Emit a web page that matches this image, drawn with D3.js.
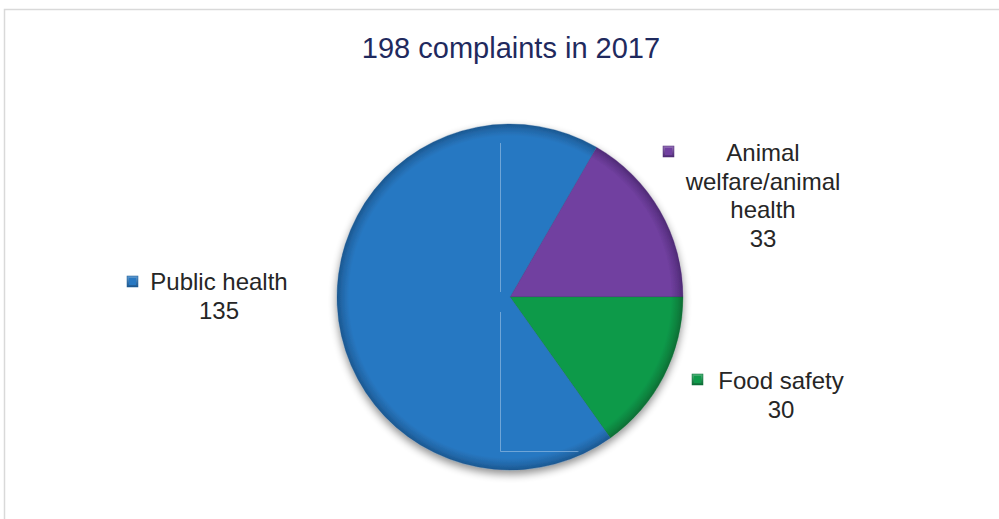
<!DOCTYPE html>
<html><head><meta charset="utf-8">
<script src="https://cdn.jsdelivr.net/npm/d3@7"></script>
<style>body{margin:0;background:#fff;}svg{display:block;font-family:"Liberation Sans",Arial,sans-serif;}</style>
</head><body>
<script>
const title = "198 complaints in 2017";
const categories = ["Animal welfare/animal health", "Food safety", "Public health"];
const values = [33, 30, 135];
const labelLines = [["Animal", "welfare/animal", "health"], ["Food safety"], ["Public health"]];
const colors = ["#7140a0", "#0f9a4a", "#2878c2"];
const darkColors = ["#4e2a75", "#0a6d34", "#1b5790"];

const W = 999, H = 519;
const svg = d3.select("body").append("svg").attr("width", W).attr("height", H);
const defs = svg.append("defs");

// border
svg.append("path").attr("d", "M4.5,519 L4.5,9.5 L999,9.5").attr("fill", "none").attr("stroke", "#d9d9d9").attr("stroke-width", 1.5);

svg.append("text").attr("x", 511).attr("y", 58).attr("text-anchor", "middle")
  .attr("font-size", 29).attr("fill", "#1f2a5e").text(title);

const cx = 510, cy = 297, R = 173;

const shadow = defs.append("filter").attr("id", "sh").attr("x", "-20%").attr("y", "-20%").attr("width", "140%").attr("height", "140%");
shadow.append("feGaussianBlur").attr("in", "SourceAlpha").attr("stdDeviation", 4).attr("result", "b");
shadow.append("feOffset").attr("in", "b").attr("dy", 4).attr("result", "o");
shadow.append("feComponentTransfer").attr("in", "o").attr("result", "o2")
  .append("feFuncA").attr("type", "linear").attr("slope", 0.45);
const m = shadow.append("feMerge");
m.append("feMergeNode").attr("in", "o2");
m.append("feMergeNode").attr("in", "SourceGraphic");

colors.forEach((c, i) => {
  const g = defs.append("radialGradient").attr("id", "g" + i).attr("gradientUnits", "userSpaceOnUse")
    .attr("cx", 0).attr("cy", 0).attr("r", R);
  g.append("stop").attr("offset", "0%").attr("stop-color", c);
  g.append("stop").attr("offset", "93%").attr("stop-color", c);
  g.append("stop").attr("offset", "97%").attr("stop-color", d3.interpolateRgb(c, darkColors[i])(0.5));
  g.append("stop").attr("offset", "100%").attr("stop-color", darkColors[i]);
  const lg = defs.append("linearGradient").attr("id", "m" + i).attr("x1", 0).attr("y1", 0).attr("x2", 0).attr("y2", 1);
  lg.append("stop").attr("offset", "0%").attr("stop-color", d3.interpolateRgb(c, "#fff")(0.25));
  lg.append("stop").attr("offset", "100%").attr("stop-color", darkColors[i]);
});

const pie = d3.pie().sort(null).startAngle(Math.PI / 6).endAngle(Math.PI / 6 + 2 * Math.PI);
const arcs = pie(values);
const arc = d3.arc().innerRadius(0).outerRadius(R);

const pg = svg.append("g").attr("transform", `translate(${cx},${cy})`).attr("filter", "url(#sh)");
pg.selectAll("path").data(arcs).join("path")
  .attr("d", arc).attr("fill", (d, i) => `url(#g${i})`)
  .attr("stroke", (d, i) => darkColors[i]).attr("stroke-width", 0.6).attr("stroke-opacity", 0.5);

// faint plot-area artifact lines
const clip = defs.append("clipPath").attr("id", "pc");
clip.append("circle").attr("cx", cx).attr("cy", cy).attr("r", R - 4);
svg.append("path").attr("clip-path", "url(#pc)")
  .attr("d", `M${cx - 9.5},${cy - 154} L${cx - 9.5},${cy - 5} M${cx - 9.5},${cy + 15} L${cx - 9.5},${cy + 154.5} L${cx + 100},${cy + 154.5}`)
  .attr("fill", "none").attr("stroke", "#8fb8e0").attr("stroke-width", 1).attr("opacity", 0.7);

// labels
const labelPos = [
  {x: 763, y: 161, mx: 663, my: 146},
  {x: 781, y: 389, mx: 692, my: 374},
  {x: 219, y: 290, mx: 127, my: 276}
];
const lh = 28.5;
labelLines.forEach((lines, i) => {
  const p = labelPos[i];
  const t = svg.append("text").attr("text-anchor", "middle").attr("font-size", 24).attr("fill", "#262626");
  lines.concat([String(values[i])]).forEach((s, k) => {
    t.append("tspan").attr("x", p.x).attr("y", p.y + k * lh).text(s);
  });
  svg.append("rect").attr("x", p.mx).attr("y", p.my).attr("width", 11).attr("height", 11)
    .attr("fill", `url(#m${i})`).attr("stroke", darkColors[i]).attr("stroke-width", 0.5);
  svg.append("rect").attr("x", p.mx + 2).attr("y", p.my + 2).attr("width", 7).attr("height", 7).attr("fill", colors[i]);
});
</script>
</body></html>
